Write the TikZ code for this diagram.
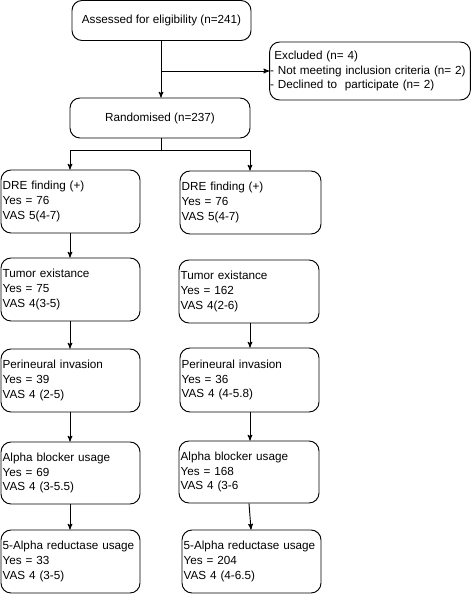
\documentclass[tikz,border=0pt]{standalone}
\usepackage{fontspec}
\setmainfont{Liberation Sans}
\usetikzlibrary{arrows,calc,positioning}

\begin{document}
\begin{tikzpicture}[>=stealth', x=0.03cm, y=-0.03cm,
    line width=0.8pt,
    font=\fontsize{10pt}{12.5pt}\selectfont,
    cbox/.style={draw, rounded corners=0.3cm, align=center,
        minimum width=5.4cm, minimum height=1.2cm, inner sep=0pt},
    lbox/.style={draw, rounded corners=0.3cm, align=left,
        text width=#1, inner xsep=0.05cm, inner ysep=0pt,
        minimum height=1.89cm},
    lbox/.default=4.07cm]
\useasboundingbox (0,0) rectangle (471,594);
% top part
\node [cbox, minimum width=5.37cm] (assess) at (161.5,20.5) {Assessed for eligibility (n=241)};
\node [lbox=6cm, inner xsep=0.01cm, minimum height=1.74cm] (excl) at (370,71)
    {\hspace{0.13cm}Excluded (n= 4)\\- Not meeting inclusion criteria (n= 2)\\- Declined to\ \ participate (n= 2)};
\node [cbox] (rand) at (160,118) {Randomised (n=237)};
\coordinate (split) at (161,150);
% left column
\node [lbox] (dreL) at (70.5,201.5) {DRE finding (+)\\Yes = 76\\VAS 5(4-7)};
\node [lbox] (tumL) at (70.5,289.5) {Tumor existance\\Yes = 75\\VAS 4(3-5)};
\node [lbox] (periL) at (70.5,380.5) {Perineural invasion\\Yes = 39\\VAS 4 (2-5)};
\node [lbox, minimum height=1.86cm] (alphaL) at (70.5,473) {Alpha blocker usage\\Yes = 69\\VAS 4 (3-5.5)};
\node [lbox] (fiveL) at (70.5,561.5) {5-Alpha reductase usage\\Yes = 33\\VAS 4 (3-5)};
% right column
\node [lbox=4.13cm] (dreR) at (250.5,202.5) {DRE finding (+)\\Yes = 76\\VAS 5(4-7)};
\node [lbox=4.1cm] (tumR) at (249,291.5) {Tumor existance\\Yes = 162\\VAS 4(2-6)};
\node [lbox=4.07cm, minimum height=1.92cm] (periR) at (249.5,380) {Perineural invasion\\Yes = 36\\VAS 4 (4-5.8)};
\node [lbox=4.1cm, minimum height=1.86cm] (alphaR) at (249,472) {Alpha blocker usage\\Yes = 168\\VAS 4 (3-6};
\node [lbox=4.07cm] (fiveR) at (251.5,561.5) {5-Alpha reductase usage\\Yes = 204\\VAS 4 (4-6.5)};
% connectors
\draw [->] (assess.south -| 161,0) -- (rand.north -| 161,0);
\draw [->] (161,71) -- (excl.west);
\draw (rand.south -| split) -- (split);
\draw [->] (split) -| (dreL.north -| 70,0);
\draw [->] (split) -| (dreR.north -| 250,0);
\draw [->] (dreL.south -| 70,0) -- (tumL.north -| 70,0);
\draw [->] (tumL.south -| 70,0) -- (periL.north -| 70,0);
\draw [->] (periL.south -| 70,0) -- (alphaL.north -| 70,0);
\draw [->] (alphaL.south -| 70,0) -- (fiveL.north -| 70,0);
\draw [->] (tumR.south -| 250,0) -- (periR.north -| 250,0);
\draw [->] (periR.south -| 250,0) -- (alphaR.north -| 250,0);
\draw [->] (alphaR.south -| 249,0) -- (fiveR.north -| 251,0);
\end{tikzpicture}
\end{document}
